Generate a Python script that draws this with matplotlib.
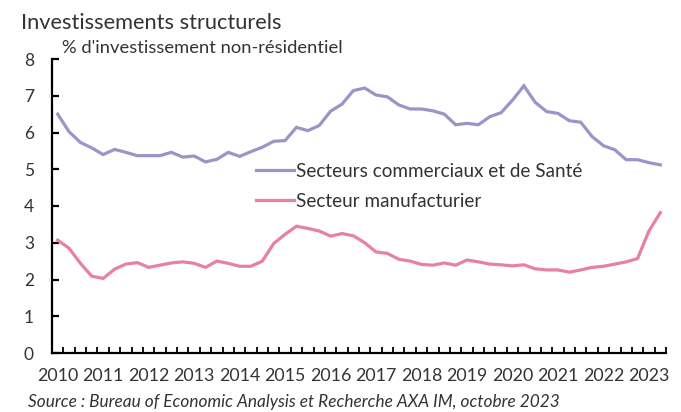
import matplotlib
matplotlib.use("Agg")
import matplotlib.pyplot as plt
import numpy as np

years = list(range(2010, 2024))
quarters = [f"{y}T{q}" for y in range(2010, 2024) for q in range(1, 5)][:54]

commercial = [6.50, 6.02, 5.73, 5.58, 5.40, 5.54, 5.46, 5.37, 5.37, 5.37,
              5.46, 5.33, 5.36, 5.20, 5.27, 5.46, 5.35, 5.48, 5.60, 5.76,
              5.78, 6.14, 6.05, 6.19, 6.58, 6.77, 7.14, 7.21, 7.02, 6.97,
              6.75, 6.64, 6.64, 6.59, 6.50, 6.21, 6.25, 6.21, 6.43, 6.54,
              6.88, 7.27, 6.82, 6.57, 6.52, 6.32, 6.28, 5.89, 5.64, 5.53,
              5.26, 5.26, 5.18, 5.12]
manufacturing = [3.07, 2.85, 2.44, 2.09, 2.03, 2.28, 2.42, 2.46, 2.33, 2.39,
                 2.45, 2.48, 2.44, 2.33, 2.50, 2.44, 2.36, 2.36, 2.50, 2.98,
                 3.23, 3.45, 3.39, 3.32, 3.18, 3.25, 3.19, 3.00, 2.75, 2.71,
                 2.55, 2.50, 2.41, 2.39, 2.45, 2.39, 2.53, 2.48, 2.42, 2.40,
                 2.37, 2.40, 2.29, 2.26, 2.26, 2.20, 2.26, 2.33, 2.36, 2.42,
                 2.48, 2.57, 3.32, 3.82]

label_commercial = "Secteurs commerciaux et de Santé"
label_manufacturing = "Secteur manufacturier"
title = "Investissements structurels"
ylabel = "% d'investissement non-résidentiel"
source = "Source : Bureau of Economic Analysis et Recherche AXA IM, octobre 2023"

plt.rcParams['font.family'] = ['Lato', 'DejaVu Sans']
txt = '#333333'

W, H = 681, 412
fig = plt.figure(figsize=(W / 100, H / 100), dpi=100)
ax = fig.add_axes([52 / W, 1 - 353 / H, (666 - 52) / W, (353 - 59) / H])

x = np.arange(len(quarters))
ax.plot(x, commercial, color='#9896C8', lw=2.3, solid_joinstyle='miter',
        label=label_commercial)
ax.plot(x, manufacturing, color='#E8809F', lw=2.3, solid_joinstyle='miter',
        label=label_manufacturing)

ax.set_xlim(-0.5, len(quarters) - 0.5)
ax.set_ylim(0, 8)
ax.set_yticks(range(0, 9))
ax.set_xticks(np.arange(0, len(quarters), 4))
ax.set_xticklabels([str(y) for y in years])
ax.set_xticks(np.arange(-0.5, len(quarters), 1), minor=True)

for s in ['top', 'right']:
    ax.spines[s].set_visible(False)
for s in ['left', 'bottom']:
    ax.spines[s].set_linewidth(1.6)
    ax.spines[s].set_color('black')

ax.tick_params(axis='y', direction='in', length=5, width=1.6, pad=13,
               labelsize=12.5, colors=txt)
ax.tick_params(axis='y', color='black')
ax.tick_params(axis='x', which='major', length=0, pad=11, labelsize=12.8,
               colors=txt)
ax.tick_params(axis='x', which='minor', direction='in', length=4, width=1.3,
               color='black')

fig.text(21 / W, 1 - 29 / H, title, fontsize=15.7, color=txt, va='baseline')
fig.text(62 / W, 1 - 53 / H, ylabel, fontsize=13.2, color=txt, va='baseline')
fig.text(28 / W, 1 - 407 / H, source, fontsize=12.45, color=txt,
         style='italic', va='baseline')

leg = ax.legend(loc='upper left', bbox_to_anchor=(256 / W, 1 - 163 / H),
                bbox_transform=fig.transFigure, frameon=False, fontsize=13.6,
                handlelength=2.0, handletextpad=0.12, labelspacing=0.68,
                borderpad=0, borderaxespad=0)
for t in leg.get_texts():
    t.set_color(txt)

fig.savefig('out.png', dpi=100)
